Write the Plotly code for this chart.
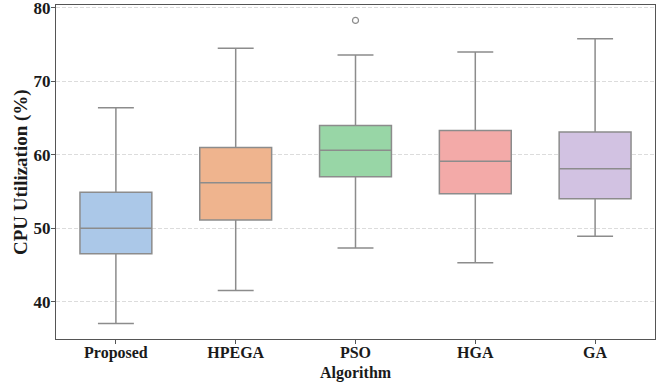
import plotly.graph_objects as go

categories = ["Proposed", "HPEGA", "PSO", "HGA", "GA"]
lower_whisker = [37.0, 41.5, 47.3, 45.3, 48.9]
q1_values = [46.5, 51.1, 57.0, 54.7, 54.0]
median_values = [50.0, 56.2, 60.6, 59.1, 58.1]
q3_values = [54.9, 61.0, 64.0, 63.3, 63.1]
upper_whisker = [66.4, 74.5, 73.6, 74.0, 75.8]
outlier_cats = ["PSO"]
outlier_values = [78.3]
colors = ["#abc8e8", "#efb48e", "#98d6a6", "#f3aaa8", "#d2c2e2"]
y_ticks = [40, 50, 60, 70, 80]

FONT = "Liberation Serif"
LINE = "#8c8c8c"
TXT = "#1a1a1a"

W, H = 663, 385
ML, MR, MT, MB = 56, 8, 5, 46
PW, PH = W - ML - MR, H - MT - MB

fig = go.Figure()
for i, c in enumerate(categories):
    fig.add_trace(go.Box(
        x=[c], q1=[q1_values[i]], median=[median_values[i]], q3=[q3_values[i]],
        lowerfence=[lower_whisker[i]], upperfence=[upper_whisker[i]],
        fillcolor=colors[i], line=dict(color=LINE, width=1.5),
        width=0.6, whiskerwidth=0.5, boxpoints=False, showlegend=False,
        hoverinfo="skip",
    ))

fig.add_trace(go.Scatter(
    x=outlier_cats, y=outlier_values, mode="markers",
    marker=dict(symbol="circle-open", size=6, color=LINE, line=dict(width=1.2, color=LINE)),
    showlegend=False,
))

fig.update_layout(
    width=W, height=H,
    margin=dict(l=ML, r=MR, t=MT, b=MB),
    plot_bgcolor="white", paper_bgcolor="white",
    font=dict(family=FONT, color=TXT),
)
fig.update_xaxes(
    categoryorder="array", categoryarray=categories, range=[-0.5, 4.5],
    showline=True, mirror=True, linecolor="#555", linewidth=1.3,
    ticks="outside", ticklen=4, tickcolor="#555",
    tickfont=dict(family=FONT, size=16, color=TXT, weight="bold"),
    ticklabeloverflow="allow", ticklabelstandoff=-5,
    showgrid=False, automargin=False,
)
fig.update_yaxes(
    range=[34.9, 80.4], tickvals=y_ticks,
    showline=True, mirror=True, linecolor="#555", linewidth=1.3,
    ticks="outside", ticklen=4, tickcolor="#555",
    tickfont=dict(family=FONT, size=17, color=TXT, weight="bold"),
    ticklabeloverflow="allow", ticklabelstandoff=-3,
    showgrid=True, gridcolor="#dcdcdc", griddash="4px,2px", gridwidth=1,
    zeroline=False, automargin=False,
)

fig.add_annotation(
    text="<b>Algorithm</b>", xref="paper", yref="paper",
    x=0.5, y=-(373 - (H - MB)) / PH, xanchor="center", yanchor="middle",
    showarrow=False, font=dict(family=FONT, size=16, color=TXT),
)
fig.add_annotation(
    text="<b>CPU Utilization (%)</b>", xref="paper", yref="paper",
    x=(21 - ML) / PW, y=0.5, xanchor="center", yanchor="middle", textangle=-90,
    showarrow=False, font=dict(family=FONT, size=19, color=TXT),
)

fig.write_html("out.html")
